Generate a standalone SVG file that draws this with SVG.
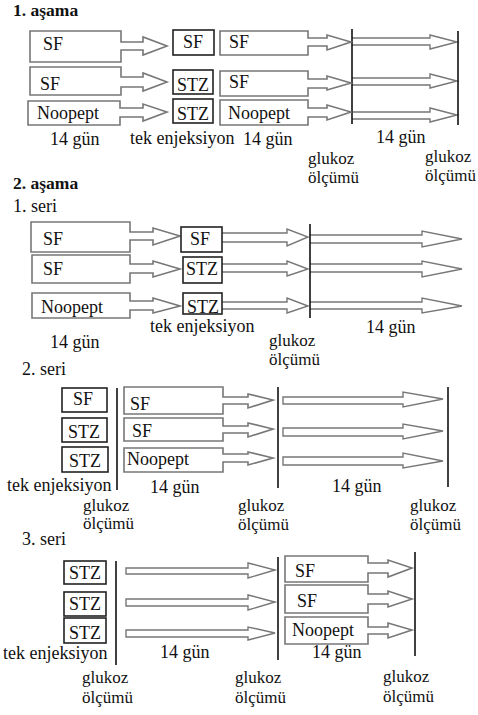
<svg xmlns="http://www.w3.org/2000/svg" width="478" height="715" viewBox="0 0 478 715" font-family="'Liberation Serif', 'DejaVu Serif', 'Times New Roman', serif">
<style>
text{font-family:'Liberation Serif','DejaVu Serif','Times New Roman',serif;font-size:18px;fill:#111}
.b{font-weight:bold;font-size:17.5px}
.g{font-size:17px}
.co{fill:#fff;stroke:#777;stroke-width:1.6}
.ar{fill:#fff;stroke:#777;stroke-width:1.4}
.bx{fill:#fff;stroke:#222;stroke-width:1.6}
.vl{stroke:#111;stroke-width:1.6;fill:none}
</style>
<rect width="478" height="715" fill="#fff"/>
<text class="b" x="13" y="16">1. aşama</text>
<g id="connectors">
<path class="ar" d="M352 38 H430 V35 L457 42 L430 49 V45 H352"/>
<path class="ar" d="M352 78 H430 V74 L457 81 L430 88 V85 H352"/>
<path class="ar" d="M352 112 H430 V108 L457 115 L430 122 V119 H352"/>
<path class="ar" d="M222 233 H287 V229 L308 237 L287 246 V242 H222"/>
<path class="ar" d="M222 264 H287 V261 L308 269 L287 276 V272 H222"/>
<path class="ar" d="M222 302 H287 V298 L308 306 L287 313 V309 H222"/>
<path class="ar" d="M310 235 H422 V231 L462 239 L422 247 V243 H310"/>
<path class="ar" d="M310 264 H422 V261 L462 269 L422 277 V272 H310"/>
<path class="ar" d="M310 302 H422 V298 L462 306 L422 313 V309 H310"/>
<path class="ar" d="M283 397 H403 V392 L443 399 L403 407 V404 H283 Z"/>
<path class="ar" d="M283 428 H403 V424 L443 431 L403 439 V436 H283 Z"/>
<path class="ar" d="M283 457 H403 V453 L443 461 L403 468 V465 H283 Z"/>
<path class="ar" d="M126 568 H248 V563 L275 570 L248 578 V574 H126 Z"/>
<path class="ar" d="M126 599 H248 V595 L275 602 L248 610 V606 H126 Z"/>
<path class="ar" d="M126 630 H248 V627 L275 633 L248 640 V637 H126 Z"/>
<line class="vl" x1="352" y1="29" x2="352" y2="124"/>
<line class="vl" x1="458" y1="31" x2="458" y2="125"/>
<line class="vl" x1="310" y1="224" x2="310" y2="318"/>
<line class="vl" x1="117" y1="388" x2="117" y2="490"/>
<line class="vl" x1="278" y1="387" x2="278" y2="488"/>
<line class="vl" x1="448" y1="387" x2="448" y2="487"/>
<line class="vl" x1="116" y1="561" x2="116" y2="665"/>
<line class="vl" x1="278" y1="557" x2="278" y2="660"/>
<line class="vl" x1="415" y1="552" x2="415" y2="656"/>
</g>
<g id="s1a1"><path class="co" d="M30 31 H121 V42 H143 V37 L167 46 L143 55 V50 H121 V62 H30 Z"/><text x="43" y="50">SF</text></g>
<g id="s1a2"><path class="co" d="M30 67 H121 V77 H143 V73 L167 82 L143 91 V87 H121 V95 H30 Z"/><text x="40" y="90">SF</text></g>
<g id="s1a3"><path class="co" d="M28 101 H120 V108 H143 V104 L167 112 L143 121 V117 H120 V125 H28 Z"/><text x="37" y="119">Noopept</text></g>
<g id="s1b1"><rect class="bx" x="173" y="30" width="41" height="25"/><text x="183" y="48">SF</text></g>
<g id="s1b2"><rect class="bx" x="173" y="70" width="40" height="24"/><text x="177" y="91">STZ</text></g>
<g id="s1b3"><rect class="bx" x="173" y="99" width="40" height="24"/><text x="177" y="120">STZ</text></g>
<g id="s1c1"><path class="co" d="M220 31 H308 V38 H327 V35 L351 42 L327 50 V46 H308 V55 H220 Z"/><text x="229" y="48">SF</text></g>
<g id="s1c2"><path class="co" d="M220 71 H308 V79 H327 V76 L351 83 L327 90 V88 H308 V96 H220 Z"/><text x="229" y="88">SF</text></g>
<g id="s1c3"><path class="co" d="M220 100 H308 V108 H327 V105 L351 112 L327 120 V117 H308 V125 H220 Z"/><text x="228" y="119">Noopept</text></g>
<text x="50" y="145">14 gün</text>
<text x="130" y="144">tek enjeksiyon</text>
<text x="243" y="145">14 gün</text>
<text x="376" y="143">14 gün</text>
<text class="g" x="308" y="164">glukoz</text>
<text class="g" x="308" y="183">ölçümü</text>
<text class="g" x="425" y="162">glukoz</text>
<text class="g" x="425" y="181">ölçümü</text>

<text class="b" x="13" y="189">2. aşama</text>
<text x="13" y="212">1. seri</text>
<g id="s2a1"><path class="co" d="M31 222 H130 V232 H153 V228 L180 236 L153 245 V240 H130 V252 H31 Z"/><text x="43" y="245">SF</text></g>
<g id="s2a2"><path class="co" d="M32 255 H130 V264 H153 V261 L180 269 L153 277 V273 H130 V283 H32 Z"/><text x="43" y="275">SF</text></g>
<g id="s2a3"><path class="co" d="M32 293 H130 V301 H153 V298 L180 306 L153 313 V310 H130 V318 H32 Z"/><text x="41" y="313">Noopept</text></g>
<g id="s2b1"><rect class="bx" x="181" y="227" width="41" height="25"/><text x="190" y="245">SF</text></g>
<g id="s2b2"><rect class="bx" x="183" y="257" width="39" height="26"/><text x="186" y="275">STZ</text></g>
<g id="s2b3"><rect class="bx" x="183" y="293" width="39" height="21"/><text x="187" y="313">STZ</text></g>
<text x="50" y="348">14 gün</text>
<text x="150" y="332">tek enjeksiyon</text>
<text class="g" x="269" y="346">glukoz</text>
<text class="g" x="269" y="365">ölçümü</text>
<text x="366" y="333">14 gün</text>

<text x="22" y="375">2. seri</text>
<g id="s3b1"><rect class="bx" x="62" y="388" width="45" height="24"/><text x="73" y="405">SF</text></g>
<g id="s3b2"><rect class="bx" x="62" y="418" width="45" height="24"/><text x="68" y="438">STZ</text></g>
<g id="s3b3"><rect class="bx" x="62" y="447" width="46" height="25"/><text x="69" y="467">STZ</text></g>
<g id="s3a1"><path class="co" d="M124 387 H223 V397 H248 V394 L273 400 L248 408 V404 H223 V414 H124 Z"/><text x="130" y="410">SF</text></g>
<g id="s3a2"><path class="co" d="M124 418 H223 V426 H248 V423 L273 429 L248 437 V433 H223 V441 H124 Z"/><text x="132" y="437">SF</text></g>
<g id="s3a3"><path class="co" d="M124 448 H223 V454 H248 V452 L273 458 L248 465 V462 H223 V472 H124 Z"/><text x="127" y="465">Noopept</text></g>
<text x="7" y="491">tek enjeksiyon</text>
<text x="150" y="493">14 gün</text>
<text class="g" x="83" y="511">glukoz</text>
<text class="g" x="83" y="529">ölçümü</text>
<text x="332" y="492">14 gün</text>
<text class="g" x="238" y="511">glukoz</text>
<text class="g" x="238" y="530">ölçümü</text>
<text class="g" x="410" y="511">glukoz</text>
<text class="g" x="410" y="530">ölçümü</text>

<text x="22" y="545">3. seri</text>
<g id="s4b1"><rect class="bx" x="64" y="561" width="42" height="23"/><text x="69" y="579">STZ</text></g>
<g id="s4b2"><rect class="bx" x="64" y="592" width="42" height="24"/><text x="69" y="610">STZ</text></g>
<g id="s4b3"><rect class="bx" x="64" y="618" width="42" height="25"/><text x="69" y="639">STZ</text></g>
<g id="s4a1"><path class="co" d="M285 556 H368 V563 H388 V560 L412 568 L388 577 V573 H368 V582 H285 Z"/><text x="295" y="577">SF</text></g>
<g id="s4a2"><path class="co" d="M285 585 H368 V594 H388 V591 L412 599 L388 607 V604 H368 V613 H285 Z"/><text x="297" y="607">SF</text></g>
<g id="s4a3"><path class="co" d="M285 617 H368 V627 H388 V623 L412 630 L388 638 V634 H368 V644 H285 Z"/><text x="292" y="636">Noopept</text></g>
<text x="3" y="659">tek enjeksiyon</text>
<text x="160" y="658">14 gün</text>
<text x="312" y="658">14 gün</text>
<text class="g" x="82" y="683">glukoz</text>
<text class="g" x="82" y="703">ölçümü</text>
<text class="g" x="235" y="683">glukoz</text>
<text class="g" x="235" y="703">ölçümü</text>
<text class="g" x="383" y="682">glukoz</text>
<text class="g" x="383" y="702">ölçümü</text>
</svg>
